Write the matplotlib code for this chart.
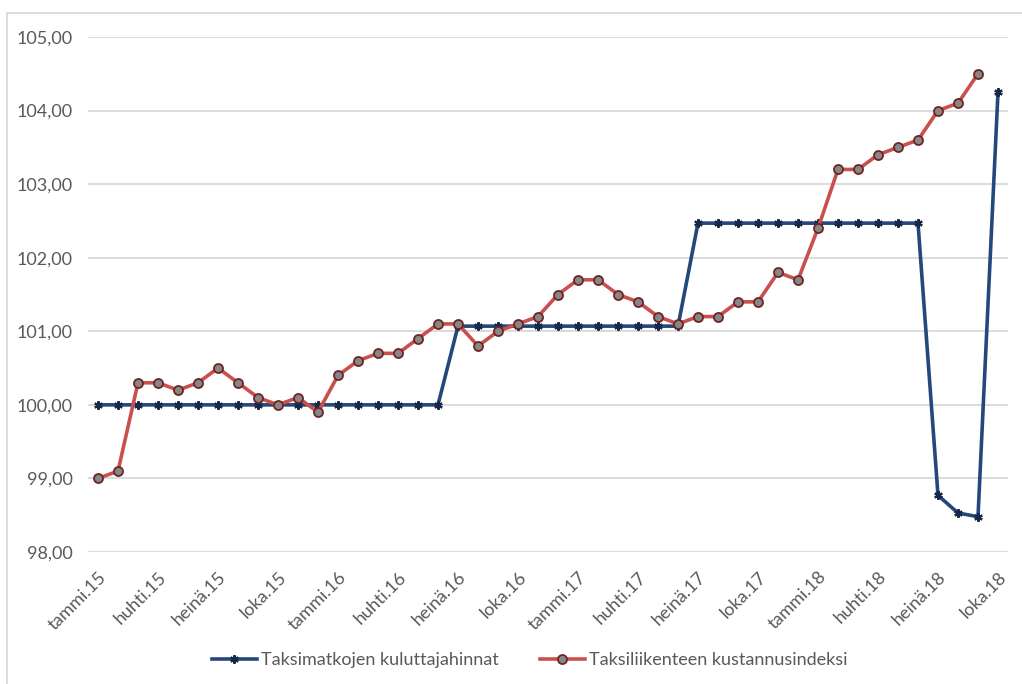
import numpy as np
import matplotlib.pyplot as plt
from matplotlib.lines import Line2D

# months tammi.15 .. loka.18
month_names = ['tammi', 'helmi', 'maalis', 'huhti', 'touko', 'kesä',
               'heinä', 'elo', 'syys', 'loka', 'marras', 'joulu']
years = ['15', '16', '17', '18']
months = [m + '.' + y for y in years for m in month_names][:46]

# Taksimatkojen kuluttajahinnat (46 months)
consumer_prices = [100.00] * 18 + [101.07] * 12 + [102.47] * 12 + [98.77, 98.53, 98.48, 104.25]

# Taksiliikenteen kustannusindeksi (45 months)
cost_index = [99.0, 99.1, 100.3, 100.3, 100.2, 100.3, 100.5, 100.3, 100.1, 100.0,
              100.1, 99.9, 100.4, 100.6, 100.7, 100.7, 100.9, 101.1, 101.1, 100.8,
              101.0, 101.1, 101.2, 101.5, 101.7, 101.7, 101.5, 101.4, 101.2, 101.1,
              101.2, 101.2, 101.4, 101.4, 101.8, 101.7, 102.4, 103.2, 103.2, 103.4,
              103.5, 103.6, 104.0, 104.1, 104.5]

label_names = ['Taksimatkojen kuluttajahinnat', 'Taksiliikenteen kustannusindeksi']

plt.rcParams['font.family'] = ['Lato', 'DejaVu Sans']
text_color = '#595959'
blue = '#25477B'
red = '#C9504D'
fs = 13

fig = plt.figure(figsize=(10.22, 6.84), dpi=100)
ax = fig.add_axes([88 / 1022, 1 - 552 / 684, 920 / 1022, 515 / 684])

x1 = np.arange(len(consumer_prices))
x2 = np.arange(len(cost_index))
ax.plot(x1, consumer_prices, color=blue, lw=2.6, marker=(6, 2, 0), ms=6,
        mec='#16284A', mew=1.6, zorder=3)
ax.plot(x2, cost_index, color=red, lw=2.6, marker='o', ms=6.5,
        mfc='#878787', mec='#6E2422', mew=1.3, zorder=4)

ax.set_xlim(-0.5, len(months) - 0.5)
ax.set_ylim(98, 105)
ax.set_yticks(np.arange(98, 105.5, 1))
ax.set_yticklabels([f'{v:.2f}'.replace('.', ',') for v in np.arange(98, 105.5, 1)])
ax.set_xticks(x1[::3])
ax.set_xticklabels(months[::3], rotation=45, ha='right', rotation_mode='anchor')
ax.tick_params(axis='both', length=0, labelsize=fs, colors=text_color)
ax.tick_params(axis='y', pad=11)
ax.tick_params(axis='x', pad=12)
ax.grid(axis='y', color='#D9D9D9', lw=1.3)
ax.set_axisbelow(True)
for s in ax.spines.values():
    s.set_visible(False)

handles = [
    Line2D([], [], color=blue, lw=2.6, marker=(6, 2, 0), ms=6, mec='#16284A', mew=1.6),
    Line2D([], [], color=red, lw=2.6, marker='o', ms=6.5, mfc='#878787', mec='#6E2422', mew=1.3),
]
fig.legend(handles, label_names, loc='center', bbox_to_anchor=(0.518, 1 - 660 / 684),
           ncol=2, frameon=False, fontsize=fs, labelcolor=text_color,
           handlelength=2.5, handletextpad=0.2, columnspacing=2.3)

# chart area border (left and top visible)
fig.add_artist(Line2D([7 / 1022, 7 / 1022], [0, 1 - 13 / 684], color='#D9D9D9', lw=1.3,
                      transform=fig.transFigure))
fig.add_artist(Line2D([7 / 1022, 1], [1 - 13 / 684, 1 - 13 / 684], color='#D9D9D9', lw=1.3,
                      transform=fig.transFigure))

fig.savefig('out.png', dpi=100)
